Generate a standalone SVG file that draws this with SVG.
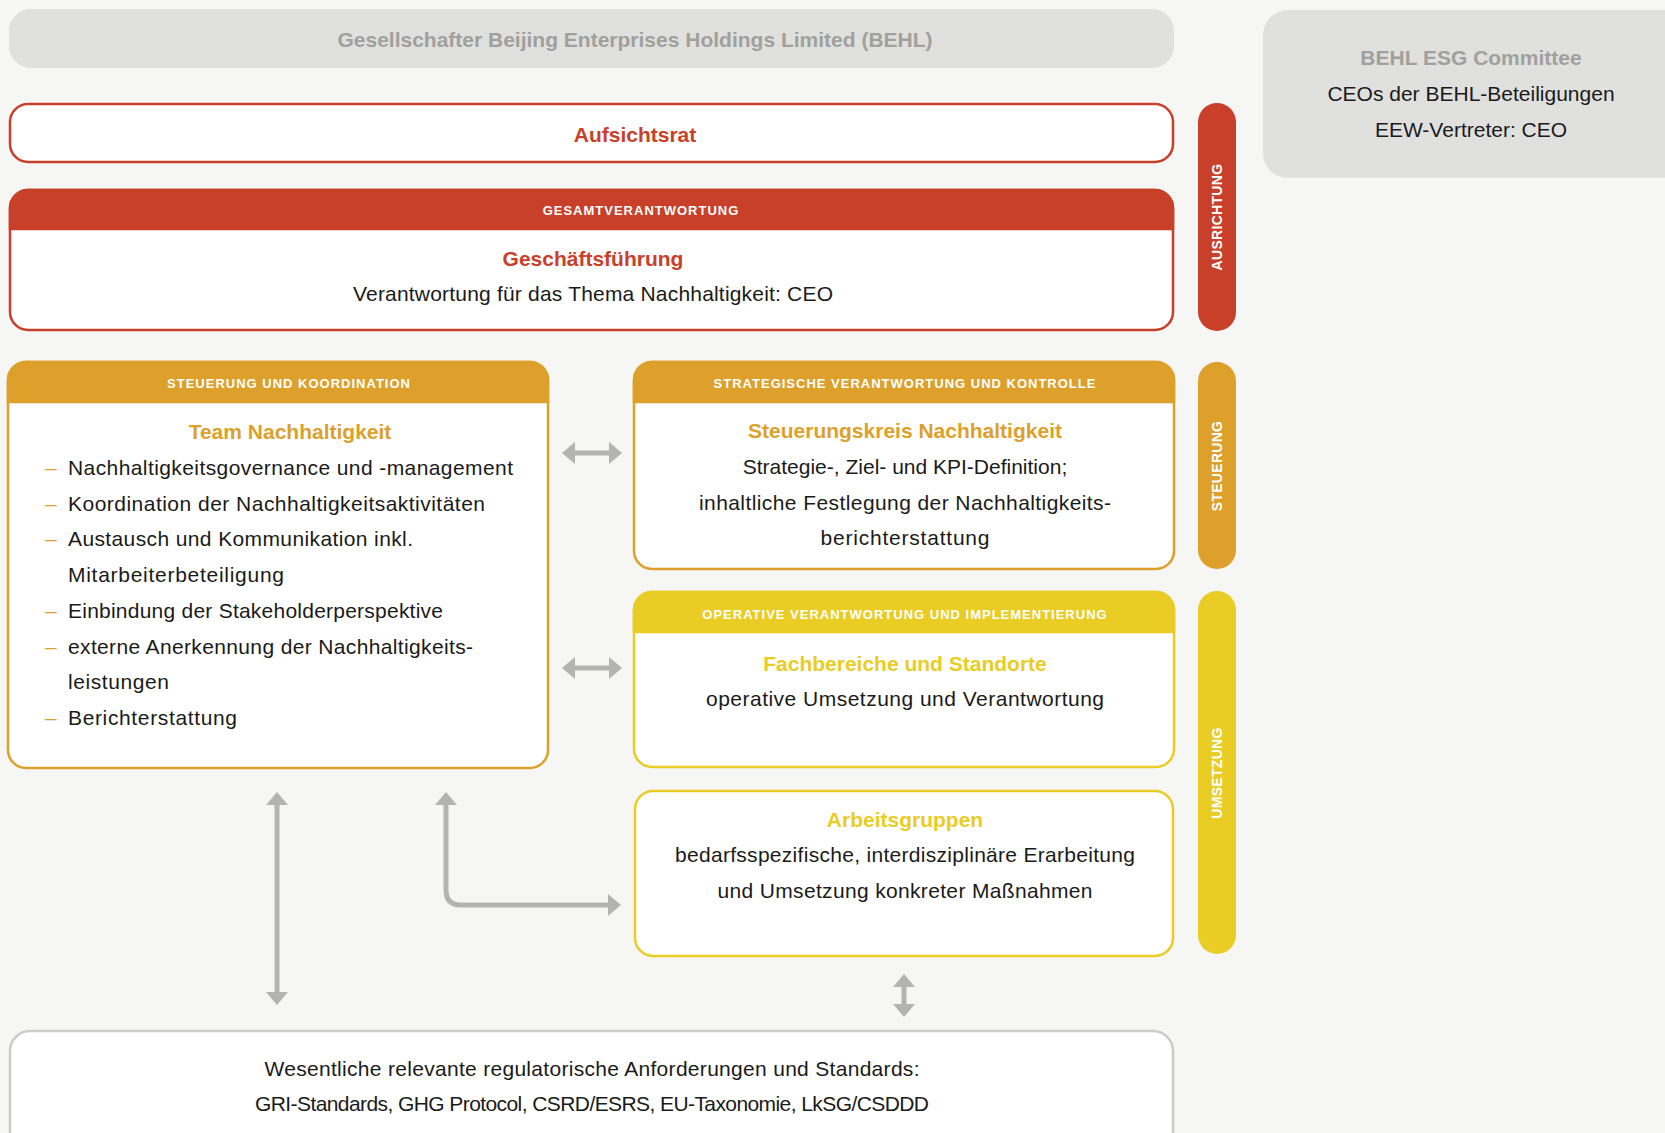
<svg xmlns="http://www.w3.org/2000/svg" width="1665" height="1133" viewBox="0 0 1665 1133">
<defs>
<style>
text{font-family:"Liberation Sans",Arial,sans-serif}
.body{font-size:21px;fill:#1a1a1a}
.mid{text-anchor:middle}
.title{font-size:21px;font-weight:bold;text-anchor:middle}
.hdr{font-size:13px;font-weight:bold;fill:#fff;text-anchor:middle;letter-spacing:1px}
.bar{font-size:14px;font-weight:bold;fill:#fff;text-anchor:middle;letter-spacing:0.3px}
.red{fill:#C9402A}.org{fill:#DCA02B}.yel{fill:#E9CC24}
.conn{fill:none;stroke:#B3B3B1;stroke-width:5}
.dash{font-size:21px;fill:#DCA02B}
</style>
<marker id="ah" viewBox="0 0 13 22" refX="3" refY="11" markerWidth="13" markerHeight="22" markerUnits="userSpaceOnUse" orient="auto-start-reverse">
<path d="M0,0 L13,11 L0,22 Z" fill="#B3B3B1"/>
</marker>
</defs>
<rect x="0" y="0" width="1665" height="1133" fill="#F6F6F4"/>

<g id="behl">
<rect x="9" y="9" width="1165" height="59" rx="22" fill="#E0E0DE"/>
<text class="title" x="635" y="47" fill="#A0A09D">Gesellschafter Beijing Enterprises Holdings Limited (BEHL)</text>
</g>

<g id="esg-committee">
<rect x="1263" y="10" width="430" height="168" rx="25" fill="#E0E0DE"/>
<text class="title" x="1471" y="65" fill="#A0A09D">BEHL ESG Committee</text>
<text class="body mid" x="1471" y="101">CEOs der BEHL-Beteiligungen</text>
<text class="body mid" x="1471" y="137">EEW-Vertreter: CEO</text>
</g>

<g id="aufsichtsrat">
<rect x="10" y="104" width="1163" height="58" rx="18" fill="#fff" stroke="#C9402A" stroke-width="2.5"/>
<text class="title red" x="635" y="142">Aufsichtsrat</text>
</g>

<g id="geschaeftsfuehrung">
<rect x="10" y="190" width="1163" height="140" rx="18" fill="#fff" stroke="#C9402A" stroke-width="2.5"/>
<path d="M10,229 V208 A18,18 0 0 1 28,190 H1155 A18,18 0 0 1 1173,208 V229 Z" fill="#C9402A" stroke="#C9402A" stroke-width="2.5"/>
<text class="hdr" x="641" y="215">GESAMTVERANTWORTUNG</text>
<text class="title red" x="593" y="266">Geschäftsführung</text>
<text class="body mid" x="593" y="301" textLength="480">Verantwortung für das Thema Nachhaltigkeit: CEO</text>
</g>

<g id="bar-ausrichtung">
<rect x="1198" y="103" width="38" height="228" rx="19" fill="#C9402A"/>
<text class="bar" transform="translate(1222,217) rotate(-90)">AUSRICHTUNG</text>
</g>

<g id="bar-steuerung">
<rect x="1198" y="362" width="38" height="207" rx="19" fill="#DCA02B"/>
<text class="bar" transform="translate(1222,466) rotate(-90)">STEUERUNG</text>
</g>

<g id="bar-umsetzung">
<rect x="1198" y="591" width="38" height="363" rx="19" fill="#E9CC24"/>
<text class="bar" transform="translate(1222,773) rotate(-90)">UMSETZUNG</text>
</g>

<g id="team-nachhaltigkeit">
<rect x="8" y="362" width="540" height="406" rx="18" fill="#fff" stroke="#DCA02B" stroke-width="2.5"/>
<path d="M8,402 V380 A18,18 0 0 1 26,362 H530 A18,18 0 0 1 548,380 V402 Z" fill="#DCA02B" stroke="#DCA02B" stroke-width="2.5"/>
<text class="hdr" x="289" y="388">STEUERUNG UND KOORDINATION</text>
<text class="title org" x="290" y="439">Team Nachhaltigkeit</text>
<text class="dash" x="45" y="475">–</text><text class="body" x="68" y="475" textLength="445">Nachhaltigkeitsgovernance und -management</text>
<text class="dash" x="45" y="511">–</text><text class="body" x="68" y="511" textLength="417">Koordination der Nachhaltigkeitsaktivitäten</text>
<text class="dash" x="45" y="546">–</text><text class="body" x="68" y="546" textLength="345">Austausch und Kommunikation inkl.</text>
<text class="body" x="68" y="582" textLength="216">Mitarbeiterbeteiligung</text>
<text class="dash" x="45" y="618">–</text><text class="body" x="68" y="618" textLength="375">Einbindung der Stakeholderperspektive</text>
<text class="dash" x="45" y="654">–</text><text class="body" x="68" y="654" textLength="405">externe Anerkennung der Nachhaltigkeits-</text>
<text class="body" x="68" y="689" textLength="101">leistungen</text>
<text class="dash" x="45" y="725">–</text><text class="body" x="68" y="725" textLength="169">Berichterstattung</text>
</g>

<g id="steuerungskreis">
<rect x="634" y="362" width="540" height="207" rx="18" fill="#fff" stroke="#DCA02B" stroke-width="2.5"/>
<path d="M634,402 V380 A18,18 0 0 1 652,362 H1156 A18,18 0 0 1 1174,380 V402 Z" fill="#DCA02B" stroke="#DCA02B" stroke-width="2.5"/>
<text class="hdr" x="905" y="388">STRATEGISCHE VERANTWORTUNG UND KONTROLLE</text>
<text class="title org" x="905" y="438">Steuerungskreis Nachhaltigkeit</text>
<text class="body mid" x="905" y="474">Strategie-, Ziel- und KPI-Definition;</text>
<text class="body mid" x="905" y="510" textLength="412">inhaltliche Festlegung der Nachhaltigkeits-</text>
<text class="body mid" x="905" y="545" textLength="169">berichterstattung</text>
</g>

<g id="fachbereiche">
<rect x="634" y="592" width="540" height="175" rx="18" fill="#fff" stroke="#E9CC24" stroke-width="2.5"/>
<path d="M634,632 V610 A18,18 0 0 1 652,592 H1156 A18,18 0 0 1 1174,610 V632 Z" fill="#E9CC24" stroke="#E9CC24" stroke-width="2.5"/>
<text class="hdr" x="905" y="619">OPERATIVE VERANTWORTUNG UND IMPLEMENTIERUNG</text>
<text class="title yel" x="905" y="671">Fachbereiche und Standorte</text>
<text class="body mid" x="905" y="706" textLength="398">operative Umsetzung und Verantwortung</text>
</g>

<g id="arbeitsgruppen">
<rect x="635" y="791" width="538" height="165" rx="18" fill="#fff" stroke="#E9CC24" stroke-width="2.5"/>
<text class="title yel" x="905" y="827">Arbeitsgruppen</text>
<text class="body mid" x="905" y="862" textLength="460">bedarfsspezifische, interdisziplinäre Erarbeitung</text>
<text class="body mid" x="905" y="898" textLength="375">und Umsetzung konkreter Maßnahmen</text>
</g>

<g id="standards">
<rect x="10" y="1031" width="1163" height="140" rx="20" fill="#fff" stroke="#CBCBC9" stroke-width="2.5"/>
<text class="body mid" x="592" y="1076" textLength="655">Wesentliche relevante regulatorische Anforderungen und Standards:</text>
<text class="body mid" x="592" y="1111" textLength="674">GRI-Standards, GHG Protocol, CSRD/ESRS, EU-Taxonomie, LkSG/CSDDD</text>
</g>

<g id="connectors">
<line class="conn" x1="572" y1="453" x2="612" y2="453" marker-start="url(#ah)" marker-end="url(#ah)"/>
<line class="conn" x1="572" y1="668" x2="612" y2="668" marker-start="url(#ah)" marker-end="url(#ah)"/>
<line class="conn" x1="277" y1="802" x2="277" y2="995" marker-start="url(#ah)" marker-end="url(#ah)"/>
<path class="conn" d="M446,802 V890 Q446,905 461,905 H611" marker-start="url(#ah)" marker-end="url(#ah)"/>
<line class="conn" x1="904" y1="984" x2="904" y2="1007" stroke-width="4" marker-start="url(#ah)" marker-end="url(#ah)"/>
</g>
</svg>
